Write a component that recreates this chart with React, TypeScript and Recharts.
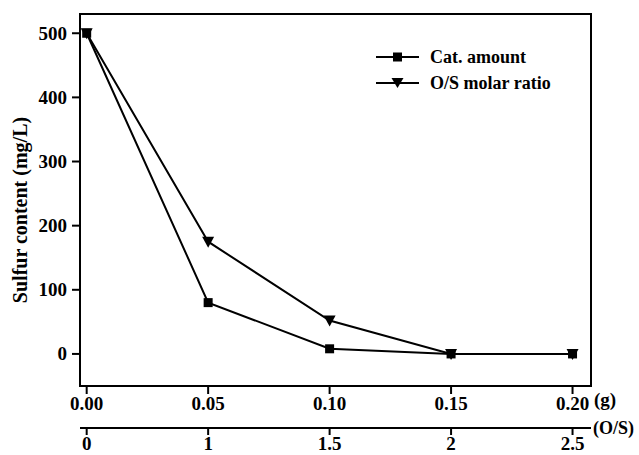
import { LineChart, Line, XAxis, YAxis, ReferenceArea, Legend } from 'recharts';

const catAmount = [0, 0.05, 0.1, 0.15, 0.2];
const osRatio = ['0', '1', '1.5', '2', '2.5'];
const catSeries = [500, 80, 8, 0, 0];
const ratioSeries = [500, 175, 52, 0, 0];
const yTicks = [0, 100, 200, 300, 400, 500];
const seriesNames = ['Cat. amount', 'O/S molar ratio'];

const data = catAmount.map((g, i) => ({ g, os: osRatio[i], cat: catSeries[i], ratio: ratioSeries[i] }));

const X_DOMAIN: [number, number] = [-0.00275, 0.2076];
const Y_DOMAIN: [number, number] = [-50, 530];
const FONT = "'Liberation Serif', 'DejaVu Serif', serif";
const textStyle = { fontSize: 19, fontWeight: 700, fill: '#000', fontFamily: FONT };

function XTick(props: any) {
  const { x, y, payload, fmt } = props;
  return (
    <text x={x} y={y} dy={13} textAnchor="middle" style={textStyle}>
      {fmt(payload.value)}
    </text>
  );
}

function YTick(props: any) {
  const { x, y, payload } = props;
  return (
    <text x={x} y={y} dy={6.5} textAnchor="end" style={textStyle}>
      {payload.value}
    </text>
  );
}

function SquareDot(props: any) {
  const { cx, cy, index } = props;
  if (cx == null || cy == null) return <g key={`s${index}`} />;
  return <rect key={`s${index}`} x={cx - 4.5} y={cy - 4.5} width={9} height={9} fill="#000" />;
}

function TriDot(props: any) {
  const { cx, cy, index } = props;
  if (cx == null || cy == null) return <g key={`t${index}`} />;
  return <path key={`t${index}`} d={`M${cx - 6},${cy - 5}L${cx + 6},${cy - 5}L${cx},${cy + 6}Z`} fill="#000" />;
}

function LegendBox() {
  const icons = [
    <rect x={17} y={5.5} width={9} height={9} fill="#000" />,
    <path d="M15.5,5L27.5,5L21.5,15Z" fill="#000" />,
  ];
  return (
    <div style={{ fontFamily: FONT, fontWeight: 700, fontSize: 18, color: '#000' }}>
      {seriesNames.map((name, i) => (
        <div key={name} style={{ display: 'flex', alignItems: 'center', height: 26 }}>
          <svg width={44} height={20} style={{ marginRight: 10 }}>
            <line x1={0} y1={10} x2={43} y2={10} stroke="#000" strokeWidth={2} />
            {icons[i]}
          </svg>
          <span style={{ fontFamily: FONT }}>{name}</span>
        </div>
      ))}
    </div>
  );
}

export default function App() {
  return (
    <div style={{ position: 'absolute', left: 0, top: 0, background: '#fff', fontFamily: FONT }}>
      <LineChart width={639} height={455} data={data} margin={{ top: 14, right: 48, left: 0, bottom: 0 }}>
        <XAxis
          xAxisId="g"
          dataKey="g"
          type="number"
          domain={X_DOMAIN}
          allowDataOverflow
          ticks={catAmount}
          height={42}
          tickSize={8}
          tickMargin={3}
          tick={<XTick fmt={(v: number) => v.toFixed(2)} />}
          axisLine={{ stroke: '#000', strokeWidth: 2 }}
          tickLine={{ stroke: '#000', strokeWidth: 2 }}
          label={{ value: '(g)', position: 'right', dx: -2, dy: -8, style: { ...textStyle, fontSize: 19 } }}
        />
        <XAxis
          xAxisId="os"
          dataKey="g"
          type="number"
          domain={X_DOMAIN}
          allowDataOverflow
          ticks={catAmount}
          height={27}
          tickSize={7}
          tickMargin={2}
          tick={<XTick fmt={(v: number) => osRatio[catAmount.indexOf(v)] ?? ''} />}
          axisLine={{ stroke: '#000', strokeWidth: 2 }}
          tickLine={{ stroke: '#000', strokeWidth: 2 }}
          label={{ value: '(O/S)', position: 'right', dx: -3, dy: -14, style: { ...textStyle, fontSize: 18 } }}
        />
        <YAxis
          type="number"
          domain={Y_DOMAIN}
          allowDataOverflow
          ticks={yTicks}
          width={80}
          tickSize={8}
          tickMargin={5}
          tick={<YTick />}
          axisLine={{ stroke: '#000', strokeWidth: 2 }}
          tickLine={{ stroke: '#000', strokeWidth: 2 }}
          label={{
            value: 'Sulfur content (mg/L)',
            angle: -90,
            position: 'center',
            dx: -20,
            dy: 10,
            style: { ...textStyle, fontSize: 20 },
          }}
        />
        <ReferenceArea
          xAxisId="g"
          x1={X_DOMAIN[0]}
          x2={X_DOMAIN[1]}
          y1={Y_DOMAIN[0]}
          y2={Y_DOMAIN[1]}
          fill="none"
          fillOpacity={0}
          stroke="#000"
          strokeWidth={2}
        />
        <Line
          xAxisId="os"
          dataKey="cat"
          stroke="none"
          dot={false}
          legendType="none"
          isAnimationActive={false}
        />
        <Line
          xAxisId="g"
          dataKey="cat"
          name={seriesNames[0]}
          stroke="#000"
          strokeWidth={2}
          dot={SquareDot}
          isAnimationActive={false}
        />
        <Line
          xAxisId="g"
          dataKey="ratio"
          name={seriesNames[1]}
          stroke="#000"
          strokeWidth={2}
          dot={TriDot}
          isAnimationActive={false}
        />
        <Legend
          layout="horizontal"
          verticalAlign="middle"
          align="center"
          content={() => <LegendBox />}
          wrapperStyle={{ position: 'absolute', left: 376, top: 44, width: 'auto' }}
        />
      </LineChart>
    </div>
  );
}
